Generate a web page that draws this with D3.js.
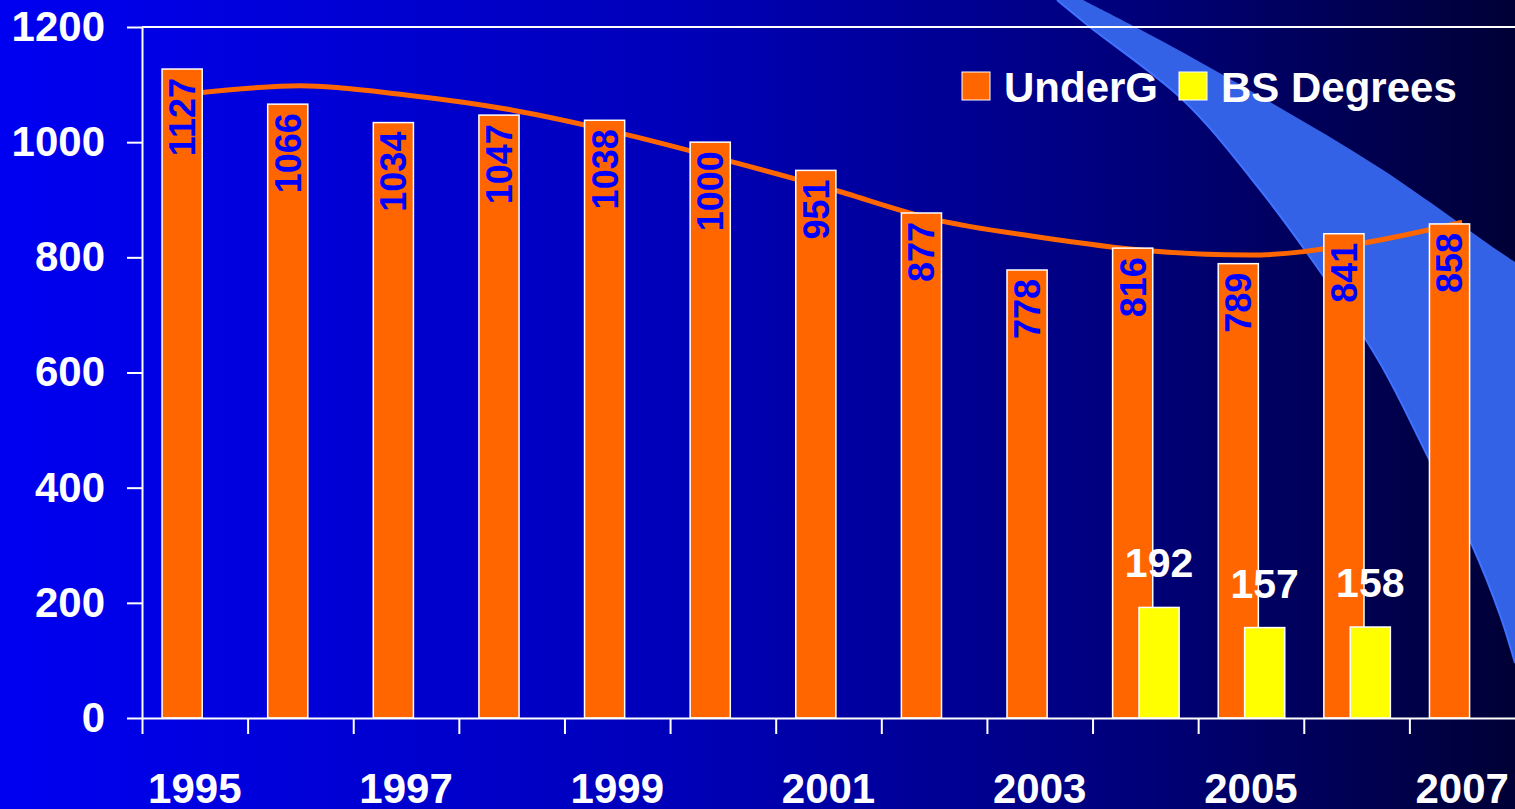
<!DOCTYPE html>
<html>
<head>
<meta charset="utf-8">
<script src="https://cdn.jsdelivr.net/npm/d3@7"></script>
<style>
html, body { margin: 0; padding: 0; overflow: hidden; background: #000080; }
svg { display: block; font-family: "Liberation Sans", Arial, sans-serif; font-weight: bold; }
</style>
</head>
<body>
<svg width="1515" height="809"></svg>
<script>
var years = [1995, 1996, 1997, 1998, 1999, 2000, 2001, 2002, 2003, 2004, 2005, 2006, 2007];
var underG = [1127, 1066, 1034, 1047, 1038, 1000, 951, 877, 778, 816, 789, 841, 858];
var bsDegrees = [null, null, null, null, null, null, null, null, null, 192, 157, 158, null];
// trend line at each year
var trend = [1085, 1098, 1082, 1056, 1017, 970, 920, 866, 835, 812, 804, 823, 861];
var yTicks = [0, 200, 400, 600, 800, 1000, 1200];
var xLabels = [1995, 1997, 1999, 2001, 2003, 2005, 2007];
var seriesNames = ['UnderG', 'BS Degrees'];
var seriesColors = ['#ff6600', '#ffff00'];

var svg = d3.select('svg'),
	width = +svg.attr('width'),
	height = +svg.attr('height'),
	plotLeft = 142,
	plotBottom = 718,
	plotTop = 27;

// background gradient
var defs = svg.append('defs');
var grad = defs.append('linearGradient').attr('id', 'bg')
	.attr('x1', '0%').attr('x2', '100%').attr('y1', '0%').attr('y2', '0%');
grad.append('stop').attr('offset', '0%').attr('stop-color', '#0000f2');
grad.append('stop').attr('offset', '45%').attr('stop-color', '#0000b8');
grad.append('stop').attr('offset', '75%').attr('stop-color', '#00007a');
grad.append('stop').attr('offset', '100%').attr('stop-color', '#000036');
svg.append('rect').attr('width', width).attr('height', height).attr('fill', 'url(#bg)');

// decorative swoosh (top right)
var swooshLeft = [[1057, 0], [1090, 27], [1183, 100], [1250, 177], [1317, 267], [1380, 363], [1428, 457], [1472, 545], [1500, 615], [1515, 663]];
var swooshRight = [[1515, 262], [1497, 250], [1383, 170], [1270, 102], [1160, 40], [1083, 0]];
var curve = d3.line().curve(d3.curveCatmullRom);
svg.append('path')
	.attr('d', curve(swooshLeft) + 'L' + curve(swooshRight).slice(1) + 'Z')
	.attr('fill', '#3362e6');
svg.append('path')
	.attr('d', curve(swooshLeft))
	.attr('fill', 'none')
	.attr('stroke', '#3f72ff')
	.attr('stroke-width', 2);

var x = d3.scaleBand().domain(years).range([plotLeft, width]).padding(0);
var y = d3.scaleLinear().domain([0, 1200]).range([plotBottom, plotTop]);
var bw = x.bandwidth(),
	barW = bw * 0.38;

// top border line at 1200
svg.append('line')
	.attr('x1', plotLeft).attr('x2', width)
	.attr('y1', y(1200)).attr('y2', y(1200))
	.attr('stroke', '#ffffff').attr('stroke-width', 2);

// trend line (behind the bars)
var trendLine = d3.line()
	.x(function(d, i){ return x(years[i]) + bw / 2; })
	.y(function(d){ return y(d); })
	.curve(d3.curveMonotoneX);
svg.append('path')
	.attr('d', trendLine(trend))
	.attr('fill', 'none')
	.attr('stroke', '#ff6600')
	.attr('stroke-width', 5);

// UnderG bars
var g1 = svg.append('g');
g1.selectAll('rect')
	.data(underG)
	.enter().append('rect')
		.attr('x', function(d, i){ return x(years[i]) + bw * 0.19; })
		.attr('y', function(d){ return y(d); })
		.attr('width', barW)
		.attr('height', function(d){ return plotBottom - y(d); })
		.attr('fill', seriesColors[0])
		.attr('stroke', '#ffffff')
		.attr('stroke-width', 1.5);

g1.selectAll('text')
	.data(underG)
	.enter().append('text')
		.attr('transform', function(d, i){
			return 'translate(' + (x(years[i]) + bw * 0.19 + barW / 2) + ',' + (y(d) + 9) + ') rotate(-90)';
		})
		.attr('text-anchor', 'end')
		.attr('dy', '0.36em')
		.attr('fill', '#0000ff')
		.style('font-size', '36px')
		.text(function(d){ return d; });

// BS Degrees bars
var bsData = bsDegrees.map(function(d, i){ return {year: years[i], value: d}; })
	.filter(function(d){ return d.value != null; });
var g2 = svg.append('g');
g2.selectAll('rect')
	.data(bsData)
	.enter().append('rect')
		.attr('x', function(d){ return x(d.year) + bw * 0.44; })
		.attr('y', function(d){ return y(d.value); })
		.attr('width', barW)
		.attr('height', function(d){ return plotBottom - y(d.value); })
		.attr('fill', seriesColors[1])
		.attr('stroke', '#ffffff')
		.attr('stroke-width', 1.5);

g2.selectAll('text')
	.data(bsData)
	.enter().append('text')
		.attr('x', function(d){ return x(d.year) + bw * 0.44 + barW / 2; })
		.attr('y', function(d){ return y(d.value) - 30; })
		.attr('text-anchor', 'middle')
		.attr('fill', '#ffffff')
		.style('font-size', '41px')
		.text(function(d){ return d.value; });

// y axis
var yAxis = svg.append('g')
	.attr('transform', 'translate(' + plotLeft + ',0)')
	.call(d3.axisLeft(y).tickValues(yTicks).tickFormat(d3.format('d')).tickSize(15).tickSizeOuter(0).tickPadding(22));
yAxis.selectAll('text').attr('fill', '#ffffff').style('font-size', '42px').style('font-family', 'inherit');

// x axis: ticks between categories
var xTickScale = d3.scaleLinear().domain([0, years.length]).range([plotLeft, width]);
svg.append('g')
	.attr('transform', 'translate(0,' + plotBottom + ')')
	.call(d3.axisBottom(xTickScale).tickValues(d3.range(0, years.length)).tickSize(16).tickSizeOuter(0).tickFormat(''));

var xLab = svg.append('g')
	.attr('transform', 'translate(0,' + plotBottom + ')')
	.call(d3.axisBottom(x).tickValues(xLabels).tickSize(0).tickSizeOuter(0));
xLab.select('.domain').remove();
xLab.selectAll('text')
	.attr('y', 85).attr('dy', 0)
	.attr('fill', '#ffffff').style('font-size', '42px').style('font-family', 'inherit');

svg.selectAll('.domain, .tick line').attr('stroke', '#ffffff').attr('stroke-width', 2);

// legend
var legendX = [962, 1179];
var legend = svg.append('g').selectAll('g')
	.data(seriesNames)
	.enter().append('g')
		.attr('transform', function(d, i){ return 'translate(' + legendX[i] + ',72)'; });
legend.append('rect')
	.attr('width', 28).attr('height', 28)
	.attr('fill', function(d, i){ return seriesColors[i]; })
	.attr('stroke', '#ffffff').attr('stroke-width', 1);
legend.append('text')
	.attr('x', 42).attr('y', 30)
	.attr('fill', '#ffffff')
	.style('font-size', '42px')
	.text(function(d){ return d; });
</script>
</body>
</html>
